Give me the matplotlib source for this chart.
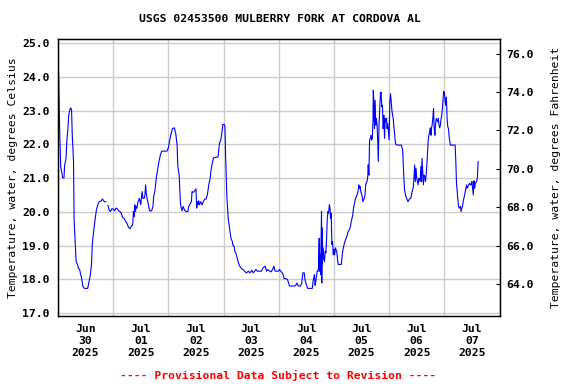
import numpy as np
import pandas as pd
import matplotlib
matplotlib.use("Agg")
import matplotlib.pyplot as plt
import matplotlib.dates as mdates
from matplotlib.ticker import FormatStrFormatter

# hours since 2025-06-30 00:00 and water temperature (deg C)
hours = [
    0.0, 0.3, 0.75, 1.2, 1.75, 2.0, 2.6, 2.9, 3.5, 3.8, 4.25, 4.7, 5.3, 5.6, 5.9, 6.2, 6.75,
    7.0, 7.6, 7.9, 8.5, 8.8, 9.4, 9.7, 10.25, 10.8, 11.4, 12.9, 13.5, 14.1, 14.6, 14.9, 15.5,
    16.1, 16.7, 17.3, 17.9, 18.75, 19.3, 20.2, 20.8, 21.2, 21.7, 22.25, 22.8, 23.4, 24.0, 24.6,
    25.2, 25.8, 26.4, 26.9, 27.5, 28.1, 28.7, 29.3, 29.9, 30.2, 30.7, 31.3, 31.9, 32.5, 32.8,
    33.1, 33.4, 33.7, 34.0, 34.3, 34.8, 35.4, 36.0, 36.3, 36.6, 36.9, 37.5, 37.8, 38.1, 38.4,
    38.7, 39.2, 39.8, 40.7, 41.3, 41.6, 42.2, 42.8, 43.4, 43.9, 44.5, 45.1, 46.8, 47.4, 48.0,
    48.6, 49.2, 49.8, 50.6, 51.2, 51.8, 52.1, 52.7, 53.0, 53.3, 53.9, 54.4, 55.0, 55.6, 56.5,
    56.8, 57.4, 58.0, 58.3, 58.8, 59.4, 60.0, 60.3, 60.6, 60.9, 61.2, 61.5, 62.1, 62.6, 63.2,
    63.8, 64.4, 65.0, 65.6, 66.2, 66.5, 67.0, 67.6, 68.8, 69.6, 70.2, 70.8, 71.1, 71.7, 72.3,
    72.6, 72.9, 73.4, 74.0, 74.6, 75.2, 75.8, 76.1, 76.6, 76.9, 77.5, 78.1, 78.7, 79.3, 79.9,
    80.5, 81.1, 81.9, 82.8, 83.4, 84.3, 84.9, 85.5, 86.1, 86.7, 87.3, 88.4, 89.2, 90.1, 90.7,
    91.2, 92.1, 92.7, 93.3, 93.9, 94.4, 95.0, 95.9,
    96.3, 96.9, 97.5, 98.0, 98.3, 99.2, 99.8, 100.4, 100.7, 101.6, 103.0, 103.6, 103.9, 104.5,
    105.4, 106.0, 106.5, 107.1, 107.4, 108.0, 108.6, 110.1, 110.6, 110.9, 111.5, 111.8, 112.1,
    112.4, 112.7, 113.0, 113.3, 113.6, 113.7, 113.9, 114.0, 114.2, 114.3, 114.6, 114.7, 114.9,
    115.0, 115.3, 115.6, 115.9, 116.2, 116.5, 116.8, 117.1, 117.4, 117.7, 118.0, 118.3, 118.5,
    118.8, 119.1, 119.4, 119.7, 120.0, 120.3, 120.6, 121.2, 121.8, 123.2, 123.5, 123.8, 124.4,
    125.0, 125.6, 126.2, 126.7, 127.0, 127.6, 128.2, 128.5, 129.1, 129.4, 130.0, 130.3, 130.6,
    130.8, 131.1, 131.4, 131.7, 132.3, 132.6, 133.2, 133.5, 133.8, 134.1, 134.4, 134.7, 134.9,
    135.2, 135.5, 135.8, 136.1, 136.4, 136.7, 137.0, 137.1, 137.3, 137.6, 137.9, 138.2, 138.5,
    138.8, 139.0, 139.3, 139.6, 139.9, 140.2, 140.5, 140.8, 141.1, 141.4, 141.7, 142.0, 142.3,
    142.6, 142.9, 143.1, 143.4, 143.7, 144.0,
    144.3, 144.6, 144.9, 145.2, 145.5, 145.8, 146.0, 146.3, 146.6, 146.9, 147.5, 149.3, 149.9,
    150.1, 150.4, 150.7, 151.3, 151.9, 152.2, 152.8, 153.4, 153.7, 154.0, 154.5, 154.8, 155.1,
    155.4, 155.7, 156.0, 156.3, 156.6, 156.9, 157.2, 157.5, 157.8, 158.1, 158.3, 158.6, 158.9,
    159.2, 159.5, 159.8, 160.1, 160.4, 160.7, 161.0, 161.3, 161.6, 161.9, 162.2, 162.4, 162.7,
    163.0, 163.3, 163.6, 163.9, 164.2, 164.5, 164.8, 165.1, 165.4, 165.7, 166.0, 166.3, 166.5,
    166.8, 167.1, 167.4, 167.7, 168.0, 168.3, 168.6, 168.9, 169.2, 169.5, 169.8, 170.1, 170.4,
    170.6, 172.7, 173.0, 173.3, 173.6, 173.9, 174.2, 174.5, 175.0, 175.3, 175.6, 175.9, 176.2,
    176.5, 177.1, 177.7, 177.9, 178.6, 179.1, 179.4, 179.7, 180.0, 180.3, 180.6, 180.9, 181.2,
    181.5, 182.1, 182.4, 182.7,
]
temp_c = [
    24.69, 23.97, 22.32, 21.31, 21.14, 21.01, 21.01, 21.39, 21.59, 22.06, 22.42, 22.88, 23.06,
    23.08, 23.01, 22.29, 21.49, 19.76, 18.91, 18.51, 18.44, 18.34, 18.29, 18.19, 18.04, 17.80,
    17.73, 17.73, 17.94, 18.14, 18.48, 19.03, 19.42, 19.76, 20.06, 20.21, 20.30, 20.32, 20.38,
    20.30, 20.30, np.nan, 20.19, 20.05, 20.01, 20.09, 20.09, 20.03, 20.11, 20.09, 20.03, 20.01,
    19.96, 19.83, 19.81, 19.73, 19.67, 19.62, 19.54, 19.50, 19.57, 19.62, 20.01, 19.86, 20.21,
    20.01, 20.16, 20.11, 20.30, 20.40, 20.21, 20.45, 20.60, 20.40, 20.40, 20.50, 20.80, 20.55,
    20.40, 20.26, 20.03, 20.03, 20.16, 20.45, 20.65, 21.04, 21.29, 21.49, 21.68, 21.80, 21.80,
    21.80, 21.90,
    22.13, 22.32, 22.47, 22.49, 22.32, 21.98, 21.34, 21.09, 20.60, 20.21, 20.03, 20.16, 20.06,
    20.01, 20.01, 20.16, 20.23, 20.30, 20.60, 20.58, 20.62, 20.68, 20.11, 20.30, 20.21, 20.33,
    20.21, 20.30, 20.21, 20.30, 20.38, 20.38, 20.52, 20.82, 21.00, 21.21, 21.41, 21.60, 21.62,
    21.63, 22.03, 22.13, 22.27, 22.59, 22.59, 22.52, 21.63, 20.50, 19.81, 19.52, 19.22, 19.12,
    19.00, 18.98, 18.83, 18.75, 18.58, 18.44, 18.36, 18.31, 18.29, 18.24, 18.19, 18.24, 18.19,
    18.26, 18.19, 18.24, 18.29, 18.24, 18.24, 18.24, 18.34, 18.39, 18.24, 18.29, 18.24, 18.22,
    18.29, 18.39, 18.24, 18.24, 18.24,
    18.29, 18.24, 18.19, 18.12, 18.02, 18.02, 17.99, 17.86, 17.80, 17.80, 17.80, 17.84, 17.89,
    17.80, 17.80, 17.89, 18.19, 18.19, 17.99, 17.84, 17.73, 17.73, 17.73, 17.94, 18.14, 17.82,
    17.94, 18.09, 18.24, 18.24, 18.34, 19.22, 18.24, 18.73, 18.44, 18.14, 18.73, 20.01, 17.89,
    19.52, 18.44, 18.93, 18.63, 18.53, 18.83, 18.78, 19.22, 19.81, 20.01, 19.96, 20.21, 20.11,
    19.81, 19.96, 19.03, 19.12, 18.73, 18.88, 18.73, 18.93, 18.83, 18.44, 18.44, 18.63, 18.83,
    19.03, 19.17, 19.27, 19.42, 19.47, 19.52, 19.73, 19.91, 20.11, 20.30, 20.40, 20.50, 20.55,
    20.65, 20.80, 20.70, 20.75, 20.60, 20.45, 20.30, 20.40, 20.50, 20.80, 20.88, 20.90, 21.04,
    21.39, 21.09, 22.13, 22.18, 22.27, 22.13, 22.18, 22.77, 23.60, 23.36, 22.47, 23.31, 22.57,
    22.77, 22.52, 22.18, 21.49, 22.57, 23.06, 23.50, 23.55, 23.11, 23.16, 22.47, 22.86, 22.18,
    22.77, 22.67, 22.77, 22.47, 22.62, 22.37, 22.13,
    23.26, 23.50, 23.28, 23.01, 22.86, 22.77, 22.57, 22.37, 22.13, 22.00, 21.98, 21.98, 21.83,
    21.49, 21.00, 20.65, 20.45, 20.35, 20.30, 20.38, 20.40, 20.50, 20.60, 20.72, 21.00, 21.39,
    20.90, 21.29, 21.00, 20.90, 20.80, 21.00, 20.95, 20.90, 21.34, 20.90, 21.59, 21.19, 20.80,
    21.09, 21.04, 20.90, 21.09, 21.39, 21.78, 22.13, 22.27, 22.37, 22.49, 22.27, 22.47, 22.57,
    22.77, 23.06, 22.47, 22.27, 22.62, 22.77, 22.72, 22.67, 22.77, 22.57, 22.49, 22.57, 22.72,
    22.82, 23.01, 23.31, 23.57, 23.55, 23.31, 23.16, 23.40, 22.77, 22.52, 22.47, 22.23, 22.08,
    21.98, 21.98, 21.49, 20.85, 20.60, 20.35, 20.16, 20.11, 20.16, 20.01, 20.11, 20.16, 20.30,
    20.40, 20.60, 20.80, 20.70, 20.80, 20.85, 20.80, 20.80, 20.90, 20.70, 20.50, 20.92, 20.70,
    20.85, 20.90, 21.04, 21.49,
]

start = pd.Timestamp("2025-06-30")
times = start + pd.to_timedelta(hours, unit="h")

title = "USGS 02453500 MULBERRY FORK AT CORDOVA AL"
note = "---- Provisional Data Subject to Revision ----"
c_ticks = [17, 18, 19, 20, 21, 22, 23, 24, 25]
f_ticks = [64, 66, 68, 70, 72, 74, 76]

plt.rcParams["font.family"] = "DejaVu Sans Mono"
plt.rcParams["font.weight"] = "bold"
plt.rcParams["font.size"] = 8.2

fig = plt.figure(figsize=(5.76, 3.84), dpi=100)
ax = fig.add_axes([0.1007, 0.177, 0.7665, 0.721])
ax.plot(times, temp_c, color="#0000ff", lw=0.8)

ax.set_xlim(pd.Timestamp("2025-06-30"), pd.Timestamp("2025-07-08"))
ax.set_ylim(16.91, 25.12)
ax.set_yticks(c_ticks)
ax.yaxis.set_major_formatter(FormatStrFormatter("%.1f"))
ax.xaxis.set_major_locator(mdates.DayLocator())
ax.xaxis.set_major_formatter(plt.NullFormatter())
ax.xaxis.set_minor_locator(mdates.HourLocator(byhour=[12]))
ax.xaxis.set_minor_formatter(mdates.DateFormatter("%b\n%d\n%Y"))
ax.tick_params(axis="x", which="both", length=0, pad=6)
ax.tick_params(axis="y", length=0, pad=6)
for lab in ax.get_xticklabels(minor=True):
    lab.set_linespacing(1.2)
ax.grid(True, which="major", color="#cccccc", lw=1.0)
ax.set_axisbelow(True)
ax.set_ylabel("Temperature, water, degrees Celsius", labelpad=3)
for s in ax.spines.values():
    s.set_linewidth(1.0)

ax2 = ax.twinx()
ax2.set_ylim(62.35, 76.75)
ax2.set_yticks(f_ticks)
ax2.yaxis.set_major_formatter(FormatStrFormatter("%.1f"))
ax2.tick_params(axis="y", direction="in", length=3, width=0.8, pad=5)
ax2.set_ylabel("Temperature, water, degrees Fahrenheit", labelpad=12)

fig.text(0.486, 0.95, title, ha="center", va="center")
fig.text(0.482, 0.023, note, ha="center", va="center", color="#ff0000")

fig.savefig("out.png", dpi=100)
